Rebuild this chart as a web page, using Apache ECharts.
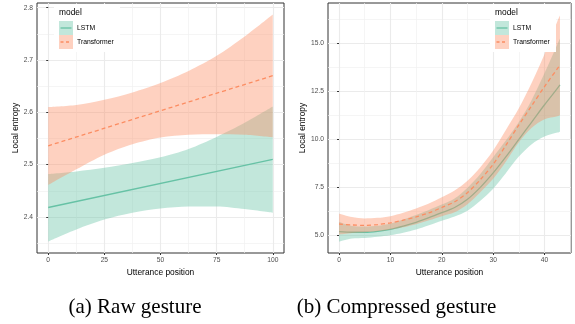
<!DOCTYPE html>
<html>
<head>
<meta charset="utf-8">
<script src="https://cdn.jsdelivr.net/npm/echarts@6/dist/echarts.min.js"></script>
<style>
  html, body { margin: 0; padding: 0; background: #fff; }
  #chart { width: 575px; height: 324px; }
</style>
</head>
<body>
<div id="chart"></div>
<script>
// (a) Raw gesture: linear fit + confidence band
const rawPos = [0, 12.5, 25, 37.5, 50, 62.5, 75, 87.5, 100];
const rawLstmLow = [2.353, 2.376, 2.395, 2.408, 2.416, 2.420, 2.420, 2.415, 2.408];
const rawLstmHigh = [2.482, 2.487, 2.494, 2.503, 2.514, 2.530, 2.553, 2.580, 2.611];
const rawTransLow = [2.461, 2.491, 2.519, 2.539, 2.552, 2.557, 2.558, 2.557, 2.552];
const rawTransHigh = [2.610, 2.614, 2.624, 2.638, 2.656, 2.679, 2.708, 2.745, 2.787];
const rawFitPos = [0, 100];
const rawLstmFit = [2.418, 2.510];
const rawTransFit = [2.536, 2.670];

// (b) Compressed gesture: smooth fit + confidence band
const compPos = [0, 2.5, 5, 7.5, 10, 12.5, 15, 17.5, 20, 22.5, 25, 27.5, 30, 32.5, 35, 37.5, 40, 42.5, 43];
const compLstmFit = [5.19, 5.16, 5.16, 5.21, 5.31, 5.48, 5.68, 5.92, 6.18, 6.45, 6.88, 7.50, 8.25, 9.10, 10.0, 10.9, 11.8, 12.65, 12.83];
const compLstmLow = [4.67, 4.83, 4.86, 4.92, 5.00, 5.13, 5.30, 5.52, 5.76, 5.98, 6.28, 6.80, 7.43, 8.25, 9.10, 9.75, 10.15, 10.35, 10.40];
const compLstmHigh = [5.71, 5.49, 5.46, 5.50, 5.62, 5.83, 6.06, 6.32, 6.60, 6.92, 7.48, 8.20, 9.07, 9.95, 10.9, 12.05, 13.45, 14.95, 15.25];
const compTransFit = [5.59, 5.54, 5.52, 5.56, 5.65, 5.79, 5.96, 6.17, 6.45, 6.75, 7.22, 7.90, 8.70, 9.70, 10.75, 11.75, 12.75, 13.68, 13.85];
const compTransLow = [5.04, 5.12, 5.16, 5.21, 5.30, 5.42, 5.58, 5.78, 6.00, 6.20, 6.62, 7.25, 7.95, 8.85, 9.85, 10.6, 11.05, 11.2, 11.25];
const compTransHigh = [6.14, 5.95, 5.88, 5.91, 6.00, 6.18, 6.40, 6.66, 6.98, 7.33, 7.84, 8.55, 9.42, 10.5, 11.62, 12.95, 14.45, 16.15, 16.45];

// ticks
const rawXTicks = [0, 25, 50, 75, 100];
const rawXMinor = [12.5, 37.5, 62.5, 87.5];
const rawYTicks = [2.4, 2.5, 2.6, 2.7, 2.8];
const rawYMinor = [2.35, 2.45, 2.55, 2.65, 2.75];
const compXTicks = [0, 10, 20, 30, 40];
const compXMinor = [5, 15, 25, 35, 45];
const compYTicks = [5, 7.5, 10, 12.5, 15];
const compYMinor = [6.25, 8.75, 11.25, 13.75, 16.25];

const modelNames = ['LSTM', 'Transformer'];

const GREEN = '#66c2a5';
const ORANGE = '#fc8d62';
const GREEN_FILL = 'rgba(102,194,165,0.4)';
const ORANGE_FILL = 'rgba(252,141,98,0.4)';
const SANS = 'Liberation Sans, Arial, sans-serif';

const chart = echarts.init(document.getElementById('chart'), null, { renderer: 'canvas' });

// main axis (ticks, labels, major grid) + helper axis (minor grid only)
function axisPair(gridIndex, min, max, major, minor, name, nameGap, fmt) {
  const main = {
    type: 'value', gridIndex, min, max,
    name, nameLocation: 'middle', nameGap,
    nameTextStyle: { color: '#000', fontSize: 8.4, fontFamily: SANS },
    axisLine: { show: false },
    axisTick: { show: true, customValues: major, length: 2, lineStyle: { color: '#333', width: 1 } },
    axisLabel: { customValues: major, color: '#4d4d4d', fontSize: 6.7, fontFamily: SANS, margin: 4, formatter: fmt },
    splitLine: { show: true, lineStyle: { color: '#ebebeb', width: 1.1 } }
  };
  const helper = {
    type: 'value', gridIndex, min, max,
    axisLine: { show: false },
    axisTick: { show: false, customValues: minor },
    axisLabel: { show: false },
    splitLine: { show: true, lineStyle: { color: '#f0f0f0', width: 0.7 } }
  };
  return [main, helper];
}

// ribbon = invisible lower line + stacked (high - low) area.
// value is put first in each item so the stack runs on y, not x
function band(key, xi, yi, pos, lo, hi, fill, z) {
  const common = {
    type: 'line', xAxisIndex: xi, yAxisIndex: yi, z, silent: true,
    stack: key, showSymbol: false, smooth: 0.3,
    encode: { x: 1, y: 0 },
    lineStyle: { opacity: 0 }
  };
  return [
    Object.assign({}, common, { data: pos.map((x, i) => [lo[i], x]) }),
    Object.assign({}, common, {
      data: pos.map((x, i) => [hi[i] - lo[i], x]),
      areaStyle: { color: fill, opacity: 1 }
    })
  ];
}

function fitLine(name, xi, yi, pos, vals, color, dashed, z) {
  return {
    type: 'line', name, xAxisIndex: xi, yAxisIndex: yi, z,
    data: pos.map((x, i) => [x, vals[i]]),
    showSymbol: false, smooth: 0.3,
    lineStyle: { color, width: 1.3, type: dashed ? [4, 3] : 'solid' }
  };
}

// legend drawn as graphic (ribbon key + line), like ggplot
function legendBox(x0) {
  const kx = x0 + 5;
  const els = [
    { type: 'rect', z: 100, shape: { x: x0, y: 4, width: 66, height: 48 }, style: { fill: '#fff' } },
    { type: 'text', z: 101, x: kx, y: 13, style: { text: 'model', fill: '#000', font: '8.4px ' + SANS, verticalAlign: 'middle' } }
  ];
  const fills = [GREEN_FILL, ORANGE_FILL];
  const cols = [GREEN, ORANGE];
  modelNames.forEach((m, i) => {
    const ky = 21 + i * 14;
    els.push({ type: 'rect', z: 101, shape: { x: kx, y: ky, width: 14, height: 14 }, style: { fill: fills[i] } });
    els.push({ type: 'line', z: 102, shape: { x1: kx + 1.5, y1: ky + 7, x2: kx + 12.5, y2: ky + 7 },
      style: { stroke: cols[i], lineWidth: 1.3, lineDash: i ? [3, 2.5] : null } });
    els.push({ type: 'text', z: 101, x: kx + 18, y: ky + 7, style: { text: m, fill: '#000', font: '6.8px ' + SANS, verticalAlign: 'middle' } });
  });
  return els;
}

const [rx, rxm] = axisPair(0, -5, 105, rawXTicks, rawXMinor, 'Utterance position', 12, v => v);
const [ry, rym] = axisPair(0, 2.331, 2.809, rawYTicks, rawYMinor, 'Local entropy', 13, v => v.toFixed(1));
const [cx, cxm] = axisPair(1, -2.15, 45.15, compXTicks, compXMinor, 'Utterance position', 12, v => v);
const [cy, cym] = axisPair(1, 4.08, 17.1, compYTicks, compYMinor, 'Local entropy', 17, v => v.toFixed(1));

const option = {
  animation: false,
  backgroundColor: '#fff',
  grid: [
    { left: 37, top: 3, width: 247, height: 250, show: true, borderColor: '#333', borderWidth: 1, backgroundColor: 'transparent' },
    { left: 328, top: 3, width: 243, height: 250, show: true, borderColor: '#333', borderWidth: 1, backgroundColor: 'transparent' }
  ],
  // axis index: 0 raw main, 1 raw minor, 2 comp main, 3 comp minor
  xAxis: [rx, rxm, cx, cxm],
  yAxis: [ry, rym, cy, cym],
  series: [
    ...band('rawLstm', 0, 0, rawPos, rawLstmLow, rawLstmHigh, GREEN_FILL, 2),
    fitLine('LSTM', 0, 0, rawFitPos, rawLstmFit, GREEN, false, 3),
    ...band('rawTrans', 0, 0, rawPos, rawTransLow, rawTransHigh, ORANGE_FILL, 4),
    fitLine('Transformer', 0, 0, rawFitPos, rawTransFit, ORANGE, true, 5),
    ...band('compLstm', 2, 2, compPos, compLstmLow, compLstmHigh, GREEN_FILL, 2),
    fitLine('LSTM', 2, 2, compPos, compLstmFit, GREEN, false, 3),
    ...band('compTrans', 2, 2, compPos, compTransLow, compTransHigh, ORANGE_FILL, 4),
    fitLine('Transformer', 2, 2, compPos, compTransFit, ORANGE, true, 5)
  ],
  graphic: [
    ...legendBox(54),
    ...legendBox(490),
    { type: 'text', z: 100, x: 135, y: 307, style: { text: '(a) Raw gesture', fill: '#000', font: '21px Liberation Serif, Times New Roman, serif', align: 'center', verticalAlign: 'middle' } },
    { type: 'text', z: 100, x: 396.5, y: 307, style: { text: '(b) Compressed gesture', fill: '#000', font: '21px Liberation Serif, Times New Roman, serif', align: 'center', verticalAlign: 'middle' } }
  ]
};

chart.setOption(option);
</script>
</body>
</html>
